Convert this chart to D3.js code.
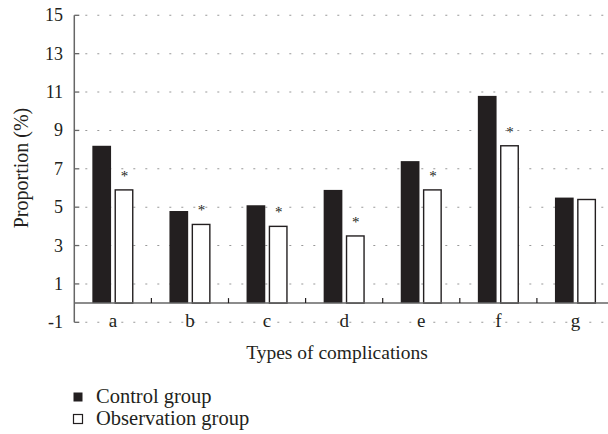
<!DOCTYPE html>
<html>
<head>
<meta charset="utf-8">
<script src="https://cdn.jsdelivr.net/npm/d3@7"></script>
<style>
  html, body { margin: 0; padding: 0; background: #fff; }
  svg { display: block; font-family: "Liberation Serif", "DejaVu Serif", serif; }
</style>
</head>
<body>
<svg id="chart" width="608" height="434"></svg>
<script>
// Complication rates (%) by type for the two groups
const categories = ["a", "b", "c", "d", "e", "f", "g"];
const controlValues = [8.2, 4.8, 5.1, 5.9, 7.4, 10.8, 5.5];
const observationValues = [5.9, 4.1, 4.0, 3.5, 5.9, 8.2, 5.4];
const significant = [true, true, true, true, true, true, false];
const yTicks = [-1, 1, 3, 5, 7, 9, 11, 13, 15];
const seriesNames = ["Control group", "Observation group"];

const ink = "#231f20";
const axisGrey = "#666666";
const svg = d3.select("#chart");

const x0 = 74.3;
const x = d3.scaleBand().domain(categories).range([x0, x0 + 7 * 77.1]).paddingInner(0).paddingOuter(0);
const xSub = d3.scaleBand().domain(["control", "observation"]).range([-20.5, 20.5]).paddingInner(0.16);
const y = d3.scaleLinear().domain([-1, 15]).range([322.3, 15.3]);

const plotRight = 620;

// dotted gridlines
svg.append("g").selectAll("line").data(yTicks).join("line")
  .attr("x1", x0 + 11).attr("x2", plotRight)
  .attr("y1", d => y(d)).attr("y2", d => y(d))
  .attr("stroke", "#999999").attr("stroke-width", 1.1)
  .attr("stroke-dasharray", "2 10");

// y axis line with inward ticks
svg.append("line")
  .attr("x1", x0).attr("x2", x0).attr("y1", y(15)).attr("y2", y(-1))
  .attr("stroke", axisGrey).attr("stroke-width", 1.5);
svg.append("g").selectAll("line").data(yTicks).join("line")
  .attr("x1", x0).attr("x2", x0 + 5)
  .attr("y1", d => y(d)).attr("y2", d => y(d))
  .attr("stroke", axisGrey).attr("stroke-width", 1.3);

// y tick labels
svg.append("g").selectAll("text").data(yTicks).join("text")
  .attr("x", 63).attr("y", d => y(d) + 6)
  .attr("text-anchor", "end")
  .attr("font-size", 18).attr("fill", ink)
  .text(d => d);

// bars
const bars = svg.append("g");
categories.forEach((c, i) => {
  const cx = x(c) + x.bandwidth() / 2;
  bars.append("rect")
    .attr("x", cx + xSub("control")).attr("width", xSub.bandwidth())
    .attr("y", y(controlValues[i])).attr("height", y(0) - y(controlValues[i]))
    .attr("fill", ink);
  bars.append("rect")
    .attr("x", cx + xSub("observation") + 0.6).attr("width", xSub.bandwidth() - 1.2)
    .attr("y", y(observationValues[i])).attr("height", y(0) - y(observationValues[i]))
    .attr("fill", "#fff").attr("stroke", ink).attr("stroke-width", 1.4);
  if (significant[i]) {
    bars.append("text")
      .attr("x", cx + xSub("observation") + xSub.bandwidth() / 2 + 0.5)
      .attr("y", y(observationValues[i]) - 9)
      .attr("text-anchor", "middle")
      .attr("font-size", 15).attr("fill", ink)
      .text("*");
  }
});

// zero baseline with small ticks between categories
svg.append("line")
  .attr("x1", x0).attr("x2", plotRight).attr("y1", y(0)).attr("y2", y(0))
  .attr("stroke", axisGrey).attr("stroke-width", 1.5);
svg.append("g").selectAll("line").data(categories.slice(1)).join("line")
  .attr("x1", d => x(d)).attr("x2", d => x(d))
  .attr("y1", y(0)).attr("y2", y(0) - 5)
  .attr("stroke", ink).attr("stroke-width", 1.2);

// category labels
svg.append("g").selectAll("text").data(categories).join("text")
  .attr("x", d => x(d) + x.bandwidth() / 2)
  .attr("y", y(-1) + 5)
  .attr("text-anchor", "middle")
  .attr("font-size", 19).attr("fill", ink)
  .text(d => d);

// axis titles
svg.append("text")
  .attr("x", 337).attr("y", 359)
  .attr("text-anchor", "middle").attr("font-size", 19.5).attr("fill", ink)
  .text("Types of complications");
svg.append("text")
  .attr("transform", "translate(28,168) rotate(-90)")
  .attr("text-anchor", "middle").attr("font-size", 20).attr("fill", ink)
  .text("Proportion (%)");

// legend
const legend = svg.append("g");
seriesNames.forEach((name, i) => {
  const ly = 397 + i * 22;
  legend.append("rect")
    .attr("x", 73.5).attr("y", ly - 4.5).attr("width", 9).attr("height", 9)
    .attr("fill", i === 0 ? ink : "#fff")
    .attr("stroke", ink).attr("stroke-width", i === 0 ? 0 : 1.2);
  legend.append("text")
    .attr("x", 96).attr("y", ly + 6)
    .attr("font-size", 20.5).attr("fill", ink)
    .text(name);
});
</script>
</body>
</html>
